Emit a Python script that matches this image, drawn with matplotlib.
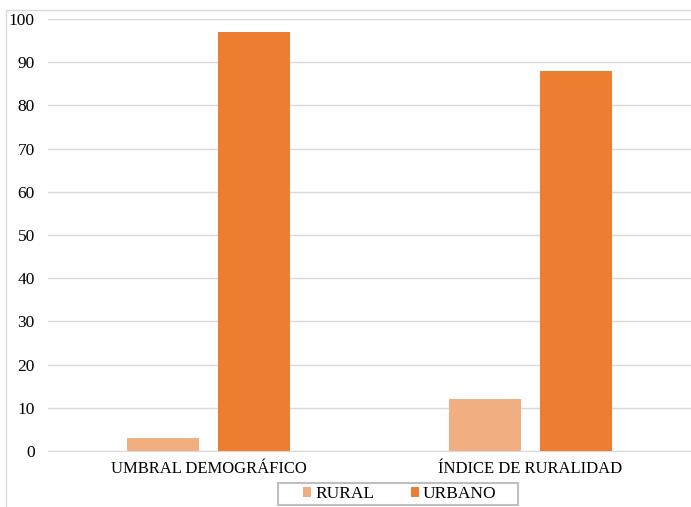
import numpy as np
import matplotlib.pyplot as plt
from matplotlib.patches import Rectangle

categorias = ["UMBRAL DEMOGRÁFICO", "ÍNDICE DE RURALIDAD"]
rural = [3, 12]
urbano = [97, 88]
series = ["RURAL", "URBANO"]

plt.rcParams['font.family'] = ['Liberation Serif', 'DejaVu Serif']

fig = plt.figure(figsize=(6.91, 5.07), dpi=100)
ax = fig.add_axes([0.0695, 0.1105, 0.9305, 0.852])

x = np.arange(len(categorias))
w = 0.224
ax.bar(x - 0.141, rural, w, color='#F1AF81', label=series[0], zorder=3)
ax.bar(x + 0.141, urbano, w, color='#ED7D31', label=series[1], zorder=3)

ax.set_xlim(-0.5, 1.5)
ax.set_ylim(0, 100)
ax.set_yticks(range(0, 101, 10))
ax.set_xticks(x)
ax.set_xticklabels(categorias)
ax.tick_params(axis='y', length=0, labelsize=12.5, pad=9.5)
ax.tick_params(axis='x', length=0, labelsize=12, pad=7)
ax.grid(axis='y', color='#D9D9D9', linewidth=1, zorder=0)
for s in ['top', 'right', 'left']:
    ax.spines[s].set_visible(False)
ax.spines['bottom'].set_color('#D9D9D9')

# marco exterior del grafico
fig.patches.append(Rectangle((6 / 691, -0.01), 1.0, 1 - 10 / 507 + 0.01,
                             transform=fig.transFigure, fill=False,
                             edgecolor='#D9D9D9', linewidth=1))

# leyenda sin marco + recuadro manual
leg = fig.legend(loc='center', bbox_to_anchor=(400 / 691, 1 - 494 / 507), ncol=2,
                 fontsize=12.5, frameon=False,
                 handlelength=0.46, handleheight=0.46, handletextpad=0.23,
                 columnspacing=2.1, borderpad=0, borderaxespad=0)
fig.patches.append(Rectangle((278 / 691, 1 - 505 / 507), 240 / 691, 22 / 507,
                             transform=fig.transFigure, fill=False,
                             edgecolor='#BFBFBF', linewidth=1.5))

fig.savefig('out.png', dpi=100)
